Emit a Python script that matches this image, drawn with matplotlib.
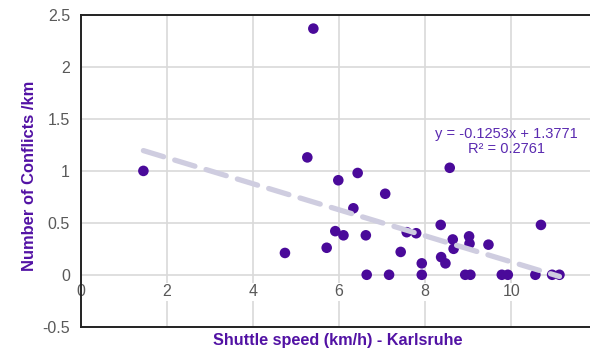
import numpy as np
import matplotlib
matplotlib.use("Agg")
import matplotlib.pyplot as plt

plt.rcParams["font.family"] = ["Liberation Sans", "DejaVu Sans"]

# shuttle speed (km/h) and conflicts per km, Karlsruhe
speed = [1.45, 4.74, 5.26, 5.40, 5.71, 5.91, 5.98, 6.10, 6.33, 6.43,
         6.62, 6.64, 7.07, 7.16, 7.43, 7.57, 7.79, 7.92, 7.92, 8.36,
         8.37, 8.47, 8.57, 8.64, 8.66, 8.93, 9.02, 9.03, 9.05, 9.47,
         9.78, 9.92, 10.56, 10.69, 10.95, 11.12]
conflicts = [1.00, 0.21, 1.13, 2.37, 0.26, 0.42, 0.91, 0.38, 0.64, 0.98,
             0.38, 0.00, 0.78, 0.00, 0.22, 0.41, 0.40, 0.11, 0.00, 0.48,
             0.17, 0.11, 1.03, 0.34, 0.25, 0.00, 0.37, 0.30, 0.00, 0.29,
             0.00, 0.00, 0.00, 0.48, 0.00, 0.00]

# linear trendline as reported on the chart
slope = -0.1253
intercept = 1.3771
r_squared = 0.2761

x_ticks = [0, 2, 4, 6, 8, 10]
y_ticks = [-0.5, 0, 0.5, 1, 1.5, 2, 2.5]
y_tick_labels = ["-0.5", "0", "0.5", "1", "1.5", "2", "2.5"]

purple = "#4a0a9a"
label_purple = "#5212a4"
grey = "#595959"

fig = plt.figure(figsize=(5.9, 3.51), dpi=100)
ax = fig.add_axes([0.1373, 0.0692, 0.8627, 0.8878])

ax.set_xlim(0, 11.83)
ax.set_ylim(-0.5, 2.5)

ax.scatter(speed, conflicts, s=58, color=purple, edgecolors="none", zorder=3)

tx = np.array([min(speed), max(speed)])
ax.plot(tx, slope * tx + intercept, color="#cfcde0", lw=3.8,
        dashes=(4, 2.2), solid_capstyle="round", dash_capstyle="round", zorder=4)

sign = "+" if intercept >= 0 else "-"
ax.text(9.88, 1.36, f"y = {slope:.4f}x {sign} {abs(intercept):.4f}",
        ha="center", va="center", fontsize=10.5, color="#5a2ab0")
ax.text(9.88, 1.215, f"R² = {r_squared:.4f}",
        ha="center", va="center", fontsize=10.5, color="#5a2ab0")

ax.set_xticks(x_ticks)
ax.set_yticks(y_ticks)
ax.set_yticklabels(y_tick_labels)
ax.grid(True, color="#d9d9d9", lw=1.2, zorder=0)
ax.set_axisbelow(True)
ax.tick_params(axis="x", length=0, labelbottom=False)
ax.tick_params(axis="y", length=0, pad=8, labelsize=11.5, labelcolor=grey)

# x tick labels sit under the y = 0 line, on a white patch over the grid
for t in x_ticks:
    ax.annotate(str(t), (t, 0), xytext=(0, -7), textcoords="offset points",
                ha="center", va="top", fontsize=11.5, color=grey, zorder=1,
                bbox=dict(facecolor="white", edgecolor="none", pad=1))

for side in ["top", "left", "bottom"]:
    ax.spines[side].set_color("#222222")
    ax.spines[side].set_linewidth(1.4)
ax.spines["right"].set_visible(False)

fig.text(338 / 590, 1 - 340.5 / 351, "Shuttle speed (km/h) - Karlsruhe",
         ha="center", va="center", fontsize=11.7, fontweight="bold", color=label_purple)
fig.text(30 / 590, 1 - 175.5 / 351, "Number of Conflicts /km", rotation=90,
         ha="center", va="center", fontsize=11.9, fontweight="bold", color=label_purple)

fig.savefig("out.png", dpi=100)
